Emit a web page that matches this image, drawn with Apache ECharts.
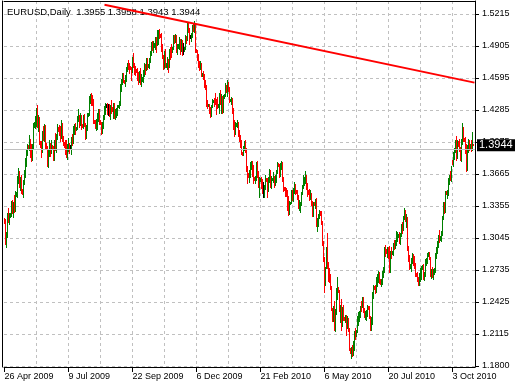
<!DOCTYPE html>
<html>
<head>
<meta charset="utf-8">
<script src="https://cdn.jsdelivr.net/npm/echarts@6/dist/echarts.min.js"></script>
<style>
html,body{margin:0;padding:0;background:#fff;}
#chart{width:515px;height:386px;}
</style>
</head>
<body>
<div id="chart"></div>
<script>
// ---- data: daily bars [open, high, low, close] ----
const apr09 = [
[1.3225,1.3240,1.3195,1.3205],[1.3205,1.3225,1.2990,1.3030],[1.3030,1.3100,1.2955,1.3065],[1.3065,1.3290,1.3050,1.3250],[1.3250,1.3335,1.3200,1.3240]];
const may09 = [
[1.3240,1.3290,1.3180,1.3265],[1.3270,1.3285,1.3250,1.3275],[1.3275,1.3400,1.3260,1.3385],[1.3385,1.3410,1.3290,1.3330],[1.3330,1.3395,1.3250,1.3375],[1.3375,1.3460,1.3300,1.3320],
[1.3320,1.3500,1.3310,1.3470],[1.3470,1.3490,1.3455,1.3480],[1.3480,1.3650,1.3440,1.3620],[1.3620,1.3720,1.3580,1.3660],[1.3660,1.3690,1.3540,1.3580],[1.3580,1.3640,1.3510,1.3595],
[1.3595,1.3660,1.3480,1.3510],[1.3510,1.3520,1.3475,1.3495],[1.3495,1.3610,1.3440,1.3580],[1.3580,1.3700,1.3570,1.3650],[1.3650,1.3820,1.3640,1.3800],[1.3800,1.3900,1.3740,1.3870],
[1.3870,1.3960,1.3850,1.3930],[1.3930,1.3945,1.3905,1.3920],[1.3920,1.4040,1.3900,1.3990],[1.3990,1.4000,1.3830,1.3850],[1.3850,1.3960,1.3790,1.3820],[1.3820,1.3960,1.3800,1.3930],
[1.3930,1.4160,1.3920,1.4140],[1.4140,1.4165,1.4125,1.4150]];
const jun09 = [
[1.4150,1.4230,1.4110,1.4170],[1.4170,1.4300,1.4130,1.4280],[1.4280,1.4335,1.4120,1.4160],[1.4160,1.4240,1.4080,1.4200],[1.4200,1.4220,1.3960,1.3975],[1.3975,1.3985,1.3930,1.3950],
[1.3950,1.3980,1.3830,1.3900],[1.3900,1.4080,1.3880,1.4060],[1.4060,1.4130,1.3990,1.4020],[1.4020,1.4150,1.3980,1.4130],[1.4130,1.4140,1.3920,1.3960],[1.3960,1.3965,1.3910,1.3930],
[1.3930,1.3935,1.3745,1.3770],[1.3770,1.3910,1.3730,1.3880],[1.3880,1.3990,1.3840,1.3950],[1.3950,1.3970,1.3840,1.3880],[1.3880,1.3995,1.3870,1.3940],[1.3940,1.3950,1.3910,1.3925],
[1.3925,1.3935,1.3800,1.3810],[1.3810,1.3990,1.3800,1.3970],[1.3970,1.4060,1.3900,1.3930],[1.3930,1.4050,1.3880,1.4030],[1.4030,1.4150,1.4000,1.4110],[1.4110,1.4120,1.4080,1.4095],
[1.4095,1.4140,1.4040,1.4080],[1.4080,1.4130,1.3980,1.4030]];
const jul09 = [
[1.4030,1.4190,1.4010,1.4150],[1.4150,1.4160,1.3980,1.4010],[1.4010,1.4030,1.3950,1.3970],[1.3970,1.3975,1.3930,1.3945],[1.3945,1.3990,1.3860,1.3920],[1.3920,1.3990,1.3830,1.3880],
[1.3880,1.3960,1.3810,1.3930],[1.3930,1.4010,1.3890,1.3960],[1.3960,1.3970,1.3870,1.3935],[1.3935,1.3945,1.3920,1.3935],[1.3935,1.4020,1.3860,1.3990],[1.3990,1.4050,1.3950,1.3980],
[1.3980,1.4130,1.3970,1.4110],[1.4110,1.4150,1.4050,1.4130],[1.4130,1.4160,1.4050,1.4100],[1.4100,1.4120,1.4090,1.4115],[1.4115,1.4230,1.4100,1.4210],[1.4210,1.4290,1.4180,1.4230],
[1.4230,1.4240,1.4120,1.4170],[1.4170,1.4260,1.4140,1.4210],[1.4210,1.4240,1.4100,1.4140],[1.4140,1.4150,1.4120,1.4135],[1.4135,1.4240,1.4110,1.4220],[1.4220,1.4250,1.4130,1.4150],
[1.4150,1.4160,1.4000,1.4030],[1.4030,1.4140,1.4010,1.4120],[1.4120,1.4260,1.4090,1.4240]];
const aug09 = [
[1.4240,1.4260,1.4230,1.4255],[1.4255,1.4420,1.4240,1.4400],[1.4400,1.4440,1.4350,1.4410],[1.4410,1.4445,1.4330,1.4390],[1.4390,1.4430,1.4330,1.4370],[1.4370,1.4390,1.4160,1.4180],
[1.4180,1.4190,1.4160,1.4170],[1.4170,1.4190,1.4110,1.4140],[1.4140,1.4200,1.4090,1.4150],[1.4150,1.4260,1.4100,1.4200],[1.4200,1.4290,1.4180,1.4270],[1.4270,1.4290,1.4150,1.4180],
[1.4180,1.4185,1.4150,1.4160],[1.4160,1.4170,1.4050,1.4080],[1.4080,1.4170,1.4060,1.4150],[1.4150,1.4240,1.4110,1.4230],[1.4230,1.4320,1.4200,1.4300],[1.4300,1.4350,1.4250,1.4330],
[1.4330,1.4340,1.4310,1.4330],[1.4330,1.4350,1.4250,1.4290],[1.4290,1.4340,1.4240,1.4290],[1.4290,1.4340,1.4230,1.4260],[1.4260,1.4330,1.4200,1.4310],[1.4310,1.4380,1.4260,1.4300],
[1.4300,1.4310,1.4280,1.4290],[1.4290,1.4350,1.4210,1.4340]];
const sep09 = [
[1.4340,1.4350,1.4210,1.4230],[1.4230,1.4290,1.4200,1.4260],[1.4260,1.4300,1.4220,1.4270],[1.4270,1.4330,1.4240,1.4320],[1.4320,1.4330,1.4310,1.4325],[1.4325,1.4370,1.4300,1.4340],
[1.4340,1.4540,1.4330,1.4530],[1.4530,1.4590,1.4470,1.4570],[1.4570,1.4640,1.4540,1.4610],[1.4610,1.4640,1.4560,1.4570],[1.4570,1.4580,1.4550,1.4560],[1.4560,1.4620,1.4520,1.4590],
[1.4590,1.4700,1.4570,1.4690],[1.4690,1.4740,1.4660,1.4720],[1.4720,1.4770,1.4680,1.4710],[1.4710,1.4740,1.4640,1.4700],[1.4700,1.4710,1.4680,1.4690],[1.4690,1.4700,1.4580,1.4660],
[1.4660,1.4800,1.4650,1.4780],[1.4780,1.4840,1.4700,1.4720],[1.4720,1.4740,1.4630,1.4680],[1.4680,1.4710,1.4620,1.4670],[1.4670,1.4680,1.4650,1.4665],[1.4665,1.4690,1.4580,1.4620],
[1.4620,1.4650,1.4540,1.4580],[1.4580,1.4660,1.4560,1.4640]];
const oct09 = [
[1.4640,1.4690,1.4540,1.4560],[1.4560,1.4630,1.4520,1.4580],[1.4580,1.4600,1.4570,1.4590],[1.4590,1.4670,1.4560,1.4630],[1.4630,1.4740,1.4610,1.4710],[1.4710,1.4730,1.4630,1.4700],
[1.4700,1.4790,1.4670,1.4770],[1.4770,1.4790,1.4680,1.4700],[1.4700,1.4730,1.4700,1.4720],[1.4720,1.4790,1.4690,1.4770],[1.4770,1.4860,1.4750,1.4840],[1.4840,1.4940,1.4820,1.4930],
[1.4930,1.4950,1.4870,1.4900],[1.4900,1.4950,1.4850,1.4910],[1.4910,1.4930,1.4900,1.4920],[1.4920,1.4990,1.4880,1.4960],[1.4960,1.4990,1.4850,1.4920],[1.4920,1.5060,1.4910,1.5020],
[1.5020,1.5060,1.4920,1.5030],[1.5030,1.5070,1.4980,1.5010],[1.5010,1.5020,1.4990,1.5000],[1.5000,1.5030,1.4860,1.4880],[1.4880,1.4920,1.4790,1.4800],[1.4800,1.4820,1.4680,1.4700],
[1.4700,1.4860,1.4690,1.4850],[1.4850,1.4880,1.4700,1.4720]];
const nov09 = [
[1.4720,1.4740,1.4700,1.4730],[1.4730,1.4800,1.4680,1.4770],[1.4770,1.4780,1.4650,1.4730],[1.4730,1.4880,1.4700,1.4870],[1.4870,1.4900,1.4780,1.4860],[1.4860,1.4920,1.4800,1.4850],
[1.4850,1.4900,1.4850,1.4890],[1.4890,1.5010,1.4880,1.4990],[1.4990,1.5010,1.4930,1.4970],[1.4970,1.5020,1.4940,1.5000],[1.5000,1.5010,1.4850,1.4870],[1.4870,1.4920,1.4830,1.4900],
[1.4900,1.4920,1.4890,1.4910],[1.4910,1.4990,1.4880,1.4960],[1.4960,1.4970,1.4830,1.4870],[1.4870,1.4970,1.4860,1.4960],[1.4960,1.4960,1.4820,1.4870],[1.4870,1.4930,1.4830,1.4870],
[1.4870,1.4900,1.4860,1.4890],[1.4890,1.5010,1.4880,1.4980],[1.4980,1.5000,1.4930,1.4970],[1.4970,1.5140,1.4960,1.5130],[1.5130,1.5140,1.5040,1.5070],[1.5070,1.5080,1.4920,1.4990],
[1.4990,1.5010,1.4980,1.4990],[1.4990,1.5030,1.4950,1.5000]];
const dec09 = [
[1.5000,1.5110,1.4990,1.5100],[1.5100,1.5120,1.5050,1.5070],[1.5070,1.5145,1.5040,1.5110],[1.5110,1.5120,1.4850,1.4870],[1.4870,1.4880,1.4850,1.4860],[1.4860,1.4870,1.4770,1.4800],
[1.4800,1.4830,1.4700,1.4720],[1.4720,1.4760,1.4670,1.4710],[1.4710,1.4760,1.4680,1.4730],[1.4730,1.4740,1.4610,1.4620],[1.4620,1.4640,1.4610,1.4630],[1.4630,1.4660,1.4590,1.4620],
[1.4620,1.4630,1.4510,1.4530],[1.4530,1.4580,1.4490,1.4510],[1.4510,1.4530,1.4320,1.4340],[1.4340,1.4380,1.4300,1.4330],[1.4330,1.4340,1.4320,1.4335],[1.4335,1.4340,1.4260,1.4290],
[1.4290,1.4310,1.4220,1.4240],[1.4240,1.4330,1.4230,1.4320],[1.4320,1.4390,1.4310,1.4370],[1.4370,1.4380,1.4360,1.4375],[1.4375,1.4400,1.4320,1.4370],[1.4370,1.4450,1.4340,1.4365],
[1.4365,1.4390,1.4250,1.4340],[1.4340,1.4410,1.4300,1.4320]];
const jan10 = [
[1.4320,1.4340,1.4310,1.4330],[1.4330,1.4450,1.4260,1.4410],[1.4410,1.4480,1.4340,1.4370],[1.4370,1.4440,1.4260,1.4410],[1.4410,1.4420,1.4260,1.4310],[1.4310,1.4430,1.4270,1.4410],
[1.4410,1.4440,1.4400,1.4430],[1.4430,1.4550,1.4420,1.4510],[1.4510,1.4530,1.4460,1.4490],[1.4490,1.4580,1.4420,1.4510],[1.4510,1.4560,1.4470,1.4500],[1.4500,1.4510,1.4360,1.4380],
[1.4380,1.4390,1.4370,1.4385],[1.4385,1.4410,1.4340,1.4390],[1.4390,1.4400,1.4260,1.4290],[1.4290,1.4300,1.4100,1.4110],[1.4110,1.4190,1.4030,1.4090],[1.4090,1.4170,1.4050,1.4140],
[1.4140,1.4160,1.4130,1.4150],[1.4150,1.4190,1.4120,1.4160],[1.4160,1.4170,1.4030,1.4070],[1.4070,1.4090,1.3980,1.4000],[1.4000,1.4040,1.3930,1.3970],[1.3970,1.3990,1.3860,1.3870],
[1.3870,1.3880,1.3850,1.3860]];
const feb10 = [
[1.3860,1.3940,1.3850,1.3930],[1.3930,1.3980,1.3900,1.3960],[1.3960,1.3990,1.3880,1.3910],[1.3910,1.3920,1.3690,1.3720],[1.3720,1.3740,1.3580,1.3660],[1.3660,1.3670,1.3640,1.3650],
[1.3650,1.3700,1.3590,1.3660],[1.3660,1.3780,1.3640,1.3740],[1.3740,1.3790,1.3710,1.3750],[1.3750,1.3790,1.3650,1.3730],[1.3730,1.3750,1.3580,1.3630],[1.3630,1.3640,1.3610,1.3620],
[1.3620,1.3650,1.3580,1.3630],[1.3630,1.3780,1.3610,1.3770],[1.3770,1.3790,1.3640,1.3660],[1.3660,1.3690,1.3540,1.3580],[1.3580,1.3640,1.3440,1.3610],[1.3610,1.3630,1.3600,1.3615],
[1.3615,1.3640,1.3530,1.3560],[1.3560,1.3620,1.3480,1.3520],[1.3520,1.3590,1.3440,1.3520],[1.3520,1.3560,1.3440,1.3540],[1.3540,1.3660,1.3520,1.3620],[1.3620,1.3630,1.3600,1.3610]];
const mar10 = [
[1.3610,1.3630,1.3440,1.3540],[1.3540,1.3640,1.3500,1.3620],[1.3620,1.3710,1.3590,1.3690],[1.3690,1.3700,1.3540,1.3600],[1.3600,1.3650,1.3530,1.3620],[1.3620,1.3630,1.3610,1.3625],
[1.3625,1.3680,1.3590,1.3630],[1.3630,1.3650,1.3540,1.3580],[1.3580,1.3660,1.3560,1.3640],[1.3640,1.3700,1.3590,1.3680],[1.3680,1.3780,1.3670,1.3760],[1.3760,1.3770,1.3740,1.3750],
[1.3750,1.3760,1.3640,1.3660],[1.3660,1.3770,1.3650,1.3760],[1.3760,1.3790,1.3710,1.3770],[1.3770,1.3780,1.3600,1.3620],[1.3620,1.3640,1.3500,1.3530],[1.3530,1.3540,1.3510,1.3520],
[1.3520,1.3540,1.3450,1.3510],[1.3510,1.3530,1.3450,1.3500],[1.3500,1.3510,1.3320,1.3330],[1.3330,1.3450,1.3270,1.3290],[1.3290,1.3400,1.3280,1.3380],[1.3380,1.3390,1.3370,1.3385],
[1.3385,1.3510,1.3380,1.3500],[1.3500,1.3510,1.3410,1.3420],[1.3420,1.3530,1.3400,1.3510]];
const apr10 = [
[1.3510,1.3590,1.3480,1.3560],[1.3560,1.3570,1.3470,1.3500],[1.3500,1.3510,1.3480,1.3490],[1.3490,1.3510,1.3420,1.3440],[1.3440,1.3460,1.3340,1.3360],[1.3360,1.3410,1.3320,1.3370],
[1.3370,1.3390,1.3300,1.3380],[1.3380,1.3490,1.3360,1.3470],[1.3470,1.3560,1.3470,1.3550],[1.3550,1.3660,1.3530,1.3600],[1.3600,1.3640,1.3560,1.3610],[1.3610,1.3690,1.3580,1.3640],
[1.3640,1.3660,1.3520,1.3560],[1.3560,1.3580,1.3450,1.3500],[1.3500,1.3510,1.3470,1.3480],[1.3480,1.3520,1.3410,1.3460],[1.3460,1.3510,1.3420,1.3470],[1.3470,1.3480,1.3360,1.3390],
[1.3390,1.3400,1.3260,1.3280],[1.3280,1.3390,1.3260,1.3380],[1.3380,1.3390,1.3360,1.3370],[1.3370,1.3420,1.3340,1.3380],[1.3380,1.3430,1.3160,1.3180],[1.3180,1.3240,1.3110,1.3210],
[1.3210,1.3280,1.3160,1.3260],[1.3260,1.3320,1.3240,1.3290]];
const may10 = [
[1.3290,1.3310,1.3270,1.3280],[1.3280,1.3310,1.3180,1.3200],[1.3200,1.3210,1.2980,1.2990],[1.2990,1.3020,1.2820,1.2830],[1.2830,1.2860,1.2520,1.2620],[1.2620,1.2760,1.2590,1.2750],
[1.2750,1.2960,1.2750,1.2920],[1.2920,1.3090,1.2750,1.2790],[1.2790,1.2810,1.2630,1.2700],[1.2700,1.2750,1.2620,1.2640],[1.2640,1.2700,1.2550,1.2560],[1.2560,1.2580,1.2350,1.2360],
[1.2360,1.2370,1.2240,1.2300],[1.2300,1.2390,1.2240,1.2370],[1.2370,1.2430,1.2150,1.2220],[1.2220,1.2360,1.2140,1.2350],[1.2350,1.2560,1.2310,1.2540],[1.2540,1.2670,1.2450,1.2560],
[1.2560,1.2570,1.2520,1.2530],[1.2530,1.2540,1.2340,1.2360],[1.2360,1.2400,1.2230,1.2370],[1.2370,1.2450,1.2150,1.2200],[1.2200,1.2380,1.2190,1.2370],[1.2370,1.2400,1.2250,1.2270],
[1.2270,1.2280,1.2250,1.2260],[1.2260,1.2300,1.2230,1.2290]];
const jun10 = [
[1.2290,1.2300,1.2110,1.2220],[1.2220,1.2290,1.2170,1.2230],[1.2230,1.2270,1.2140,1.2160],[1.2160,1.2170,1.1960,1.1970],[1.1970,1.1980,1.1930,1.1940],[1.1940,1.1990,1.1880,1.1960],
[1.1960,1.2010,1.1900,1.1930],[1.1930,1.2050,1.1910,1.1990],[1.1990,1.2140,1.1960,1.2120],[1.2120,1.2170,1.2070,1.2110],[1.2110,1.2150,1.2100,1.2140],[1.2140,1.2290,1.2130,1.2220],
[1.2220,1.2330,1.2200,1.2320],[1.2320,1.2340,1.2240,1.2330],[1.2330,1.2390,1.2280,1.2390],[1.2390,1.2430,1.2340,1.2385],[1.2385,1.2470,1.2380,1.2450],[1.2450,1.2470,1.2330,1.2340],
[1.2340,1.2370,1.2280,1.2290],[1.2290,1.2340,1.2260,1.2300],[1.2300,1.2350,1.2250,1.2330],[1.2330,1.2400,1.2290,1.2380],[1.2380,1.2390,1.2360,1.2370],[1.2370,1.2390,1.2270,1.2280],
[1.2280,1.2290,1.2150,1.2160],[1.2160,1.2280,1.2150,1.2230]];
const jul10 = [
[1.2230,1.2520,1.2210,1.2510],[1.2510,1.2590,1.2460,1.2570],[1.2570,1.2580,1.2550,1.2560],[1.2560,1.2590,1.2510,1.2540],[1.2540,1.2670,1.2520,1.2630],[1.2630,1.2700,1.2580,1.2690],
[1.2690,1.2730,1.2620,1.2710],[1.2710,1.2720,1.2610,1.2640],[1.2640,1.2650,1.2600,1.2610],[1.2610,1.2650,1.2580,1.2615],[1.2615,1.2730,1.2600,1.2720],[1.2720,1.2760,1.2670,1.2740],
[1.2740,1.2960,1.2720,1.2940],[1.2940,1.2980,1.2870,1.2930],[1.2930,1.2940,1.2900,1.2910],[1.2910,1.2960,1.2860,1.2950],[1.2950,1.2960,1.2850,1.2890],[1.2890,1.2970,1.2720,1.2730],
[1.2730,1.2920,1.2720,1.2910],[1.2910,1.2960,1.2850,1.2900],[1.2900,1.2920,1.2890,1.2910],[1.2910,1.3000,1.2880,1.2990],[1.2990,1.3030,1.2940,1.2980],[1.2980,1.3030,1.2950,1.2990],
[1.2990,1.3110,1.2980,1.3060],[1.3060,1.3100,1.3020,1.3065]];
const aug10 = [
[1.3065,1.3080,1.3050,1.3070],[1.3070,1.3100,1.3000,1.3020],[1.3020,1.3090,1.2990,1.3080],[1.3080,1.3180,1.3060,1.3160],[1.3160,1.3200,1.3090,1.3130],[1.3130,1.3260,1.3120,1.3240],
[1.3240,1.3335,1.3230,1.3300],[1.3300,1.3320,1.3210,1.3230],[1.3230,1.3280,1.3150,1.3240],[1.3240,1.3250,1.2930,1.2950],[1.2950,1.2970,1.2820,1.2850],[1.2850,1.2880,1.2740,1.2760],
[1.2760,1.2790,1.2750,1.2780],[1.2780,1.2850,1.2730,1.2840],[1.2840,1.2900,1.2800,1.2860],[1.2860,1.2890,1.2780,1.2810],[1.2810,1.2870,1.2750,1.2780],[1.2780,1.2800,1.2680,1.2700],
[1.2700,1.2710,1.2680,1.2690],[1.2690,1.2720,1.2630,1.2650],[1.2650,1.2670,1.2590,1.2620],[1.2620,1.2710,1.2590,1.2660],[1.2660,1.2750,1.2630,1.2730],[1.2730,1.2770,1.2650,1.2750],
[1.2750,1.2780,1.2740,1.2770],[1.2770,1.2790,1.2650,1.2670],[1.2670,1.2720,1.2640,1.2690]];
const sep10 = [
[1.2690,1.2840,1.2680,1.2820],[1.2820,1.2850,1.2780,1.2830],[1.2830,1.2900,1.2800,1.2880],[1.2880,1.2905,1.2875,1.2900],[1.2900,1.2910,1.2840,1.2850],[1.2850,1.2860,1.2680,1.2690],
[1.2690,1.2740,1.2660,1.2720],[1.2720,1.2760,1.2670,1.2700],[1.2700,1.2740,1.2650,1.2710],[1.2710,1.2750,1.2700,1.2740],[1.2740,1.2900,1.2720,1.2870],[1.2870,1.2960,1.2850,1.2940],
[1.2940,1.3020,1.2900,1.3000],[1.3000,1.3070,1.2960,1.3050],[1.3050,1.3120,1.3010,1.3040],[1.3040,1.3060,1.3030,1.3050],[1.3050,1.3110,1.3020,1.3090],[1.3090,1.3260,1.3070,1.3250],
[1.3250,1.3390,1.3230,1.3370],[1.3370,1.3390,1.3290,1.3310],[1.3310,1.3500,1.3300,1.3490],[1.3490,1.3500,1.3470,1.3480],[1.3480,1.3510,1.3430,1.3490],[1.3490,1.3630,1.3460,1.3620],
[1.3620,1.3660,1.3570,1.3630],[1.3630,1.3690,1.3610,1.3620]];
const oct10 = [
[1.3620,1.3740,1.3600,1.3720],[1.3790,1.3805,1.3760,1.3770],[1.3770,1.3880,1.3740,1.3860],[1.3860,1.3920,1.3810,1.3900],[1.3900,1.3990,1.3880,1.3960],[1.3960,1.4030,1.3800,1.3830],
[1.3830,1.3990,1.3820,1.3960],[1.3960,1.3980,1.3940,1.3950],[1.3950,1.4000,1.3890,1.3910],[1.3910,1.3930,1.3800,1.3880],[1.3880,1.4000,1.3790,1.3980],[1.3980,1.4160,1.3960,1.4110],
[1.4110,1.4120,1.3980,1.4000],[1.4000,1.4010,1.3980,1.3990],[1.3990,1.4020,1.3870,1.3890],[1.3890,1.3960,1.3690,1.3720],[1.3720,1.3950,1.3700,1.3930],[1.3930,1.4000,1.3880,1.3960],
[1.3960,1.3990,1.3900,1.3940],[1.3940,1.3960,1.3920,1.3950],[1.3940,1.3990,1.3890,1.3910],[1.3910,1.4070,1.3900,1.3955],[1.3955,1.3958,1.3943,1.3944]];

const months = [apr09,may09,jun09,jul09,aug09,sep09,oct09,nov09,dec09,jan10,feb10,mar10,apr10,may10,jun10,jul10,aug10,sep10,oct10];

// ---- axis definitions ----
const symbolName = 'EURUSD,Daily';
const firstDay = '2009-04-26';
const closedDays = ['2009-12-25', '2010-01-01'];
const monthNames = ['Jan','Feb','Mar','Apr','May','Jun','Jul','Aug','Sep','Oct','Nov','Dec'];
const yTickValues = [1.5215,1.4905,1.4595,1.4285,1.3975,1.3665,1.3355,1.3045,1.2735,1.2425,1.2115,1.1805];
const yTickLabels = ['1.5215','1.4905','1.4595','1.4285','1.3975','1.3665','1.3355','1.3045','1.2735','1.2425','1.2115','1.1800'];
const yMin = 1.179531, yMax = 1.534094;
// trend line drawn on the chart: [bar index, price]
const trendLine = [[100, 1.5305], [470, 1.4550]];

// ---- build ----
const bars = [].concat(...months);
const categories = [];
{
  const d = new Date(firstDay + 'T00:00:00Z');
  while (categories.length < bars.length) {
    const iso = d.toISOString().slice(0, 10);
    if (d.getUTCDay() !== 6 && closedDays.indexOf(iso) < 0) {
      categories.push(d.getUTCDate() + ' ' + monthNames[d.getUTCMonth()] + ' ' + d.getUTCFullYear());
    }
    d.setUTCDate(d.getUTCDate() + 1);
  }
}
categories.push(''); // right margin slot
const seriesData = bars.map((b, i) => [i, b[0], b[1], b[2], b[3]]);
const last = bars[bars.length - 1];
const lastClose = last[3];
const FONT = 'Liberation Sans';
const GRID = '#c0c0c0';

const chart = echarts.init(document.getElementById('chart'), null, {renderer: 'canvas'});
chart.setOption({
  animation: false,
  backgroundColor: '#fff',
  title: {
    text: symbolName + '  ' + last.map(v => v.toFixed(4)).join(' '),
    left: 7, top: 7, padding: 0, z: 1,
    textStyle: {fontFamily: FONT, fontSize: 9.5, fontWeight: 'normal', color: '#000'}
  },
  grid: {left: 4, right: 40, top: 1, bottom: 19, containLabel: false, outerBoundsMode: 'none'},
  xAxis: [{
    type: 'category', data: categories, boundaryGap: true,
    axisLine: {show: true, lineStyle: {color: '#000', width: 1}},
    axisTick: {show: true, alignWithLabel: true, length: 5, interval: (i) => i % 64 === 0 && i < bars.length, lineStyle: {color: '#000'}},
    axisLabel: {show: true, interval: (i) => i % 64 === 0 && i < bars.length, align: 'left', margin: 5,
      fontFamily: FONT, fontSize: 9, color: '#000'},
    splitLine: {show: true, interval: (i) => i % 32 === 0 && i > 0, lineStyle: {color: GRID, type: [3, 3], width: 1}}
  }, {
    type: 'value', position: 'top', min: 0, max: 1,
    axisLine: {show: true, onZero: false, lineStyle: {color: '#000'}},
    axisTick: {show: false}, axisLabel: {show: false}, splitLine: {show: false}
  }],
  yAxis: [{
    type: 'value', position: 'right', min: yMin, max: yMax, scale: true,
    axisLine: {show: true, onZero: false, lineStyle: {color: '#000'}},
    axisTick: {show: true, length: 4, customValues: yTickValues, lineStyle: {color: '#000'}},
    axisLabel: {show: true, customValues: yTickValues, margin: 7, fontFamily: FONT, fontSize: 9, color: '#000',
      formatter: (v) => { const k = yTickValues.findIndex(t => Math.abs(t - v) < 1e-7); return k >= 0 ? yTickLabels[k] : ''; }},
    splitLine: {show: true, lineStyle: {color: GRID, type: [3, 3], width: 1}}
  }, {
    type: 'value', position: 'left', offset: 2, min: 0, max: 1,
    axisLine: {show: true, onZero: false, lineStyle: {color: '#000'}},
    axisTick: {show: false}, axisLabel: {show: false}, splitLine: {show: false}
  }, {
    // current price marker on the price scale
    type: 'value', position: 'right', offset: 0, min: yMin, max: yMax, scale: true, z: 5,
    axisLine: {show: false}, axisTick: {show: false}, splitLine: {show: false},
    axisLabel: {show: true, customValues: [lastClose], margin: 2, formatter: (v) => v.toFixed(4),
      fontFamily: FONT, fontSize: 11, lineHeight: 11, color: '#fff', backgroundColor: '#000', padding: [1, 4, 0, 2]}
  }],
  series: [{
    type: 'custom',
    name: symbolName,
    xAxisIndex: 0, yAxisIndex: 0,
    data: seriesData,
    encode: {x: 0, y: [1, 2, 3, 4]},
    z: 2,
    renderItem: function (params, api) {
      const i = api.value(0), o = api.value(1), h = api.value(2), l = api.value(3), c = api.value(4);
      const top = api.coord([i, h]);
      const bot = api.coord([i, l]);
      const x = Math.floor(top[0]);
      const y1 = Math.round(top[1]);
      const y2 = Math.round(bot[1]);
      const color = c > o ? '#008000' : (c < o ? '#ff0000' : '#000000');
      return {type: 'rect', shape: {x: x, y: y1, width: 1, height: Math.max(1, y2 - y1 + 1)}, style: {fill: color}};
    },
    markLine: {
      silent: true, symbol: 'none', animation: false,
      label: {show: false},
      data: [{yAxis: lastClose, lineStyle: {color: GRID, type: 'solid', width: 1}}]
    }
  }, {
    type: 'line',
    name: 'trend',
    xAxisIndex: 0, yAxisIndex: 0,
    data: trendLine,
    symbol: 'none', showSymbol: false, clip: true, z: 4,
    lineStyle: {color: '#ff0000', width: 2}
  }]
});
</script>
</body>
</html>
